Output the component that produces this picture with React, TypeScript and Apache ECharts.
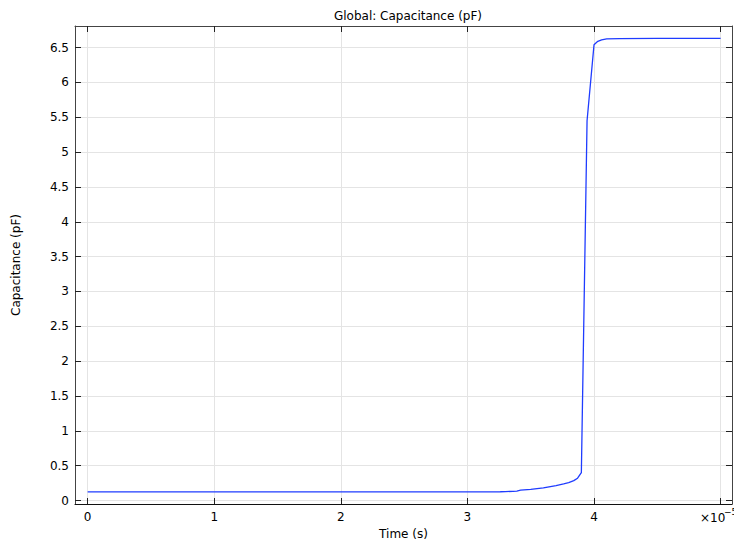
import React, { useEffect, useRef } from "react";
import * as echarts from "echarts";

const timeE5 = [0, 0.5, 1, 1.5, 2, 2.5, 3, 3.1, 3.2, 3.26, 3.3, 3.36, 3.39, 3.42, 3.5, 3.6, 3.7, 3.76, 3.8, 3.84, 3.87, 3.9, 3.945, 4.0, 4.03, 4.06, 4.1, 4.2, 4.5, 5.0];
const capacitance = [0.124, 0.124, 0.124, 0.124, 0.124, 0.124, 0.124, 0.124, 0.125, 0.126, 0.128, 0.132, 0.136, 0.148, 0.16, 0.18, 0.215, 0.24, 0.258, 0.285, 0.32, 0.4, 5.45, 6.54, 6.59, 6.61, 6.625, 6.63, 6.632, 6.632];
const xTicks = [0, 1, 2, 3, 4, 5];
const xLabels = [0, 1, 2, 3, 4];
const yTicks = [0, 0.5, 1, 1.5, 2, 2.5, 3, 3.5, 4, 4.5, 5, 5.5, 6, 6.5];

const FONT = "DejaVu Sans";
const GRID = "#e4e4e4";
const AXIS = "#444";

export default function App() {
  const ref = useRef<HTMLDivElement>(null);
  useEffect(() => {
    document.body.style.margin = "0";
    const chart = echarts.init(ref.current!, null, { renderer: "svg" });
    const xBase = {
      type: "value" as const,
      min: -0.1,
      max: 5.09,
      axisLine: { show: true, onZero: false, lineStyle: { color: AXIS, width: 1 } },
      axisTick: { show: true, inside: true, length: 6, customValues: xTicks, lineStyle: { color: "#222" } },
    };
    const yBase = {
      type: "value" as const,
      min: -0.05,
      max: 6.81,
      axisLine: { show: true, onZero: false, lineStyle: { color: AXIS, width: 1 } },
      axisTick: { show: true, inside: true, length: 6, customValues: yTicks, lineStyle: { color: "#222" } },
    };
    chart.setOption({
      animation: false,
      title: {
        text: "Global: Capacitance (pF)",
        left: 403,
        textAlign: "center",
        top: 5,
        textStyle: { fontFamily: FONT, fontSize: 12, fontWeight: "normal", color: "#000" },
      },
      grid: { left: 75, right: 2, top: 26, bottom: 36, containLabel: false, outerBoundsMode: "none" },
      xAxis: [
        {
          ...xBase,
          position: "bottom",
          name: "Time (s)",
          nameLocation: "middle",
          nameGap: 17,
          nameTextStyle: { fontFamily: FONT, fontSize: 12, color: "#000" },
          axisLine: { show: true, onZero: false, lineStyle: { color: "#111", width: 1 } },
          axisLabel: { customValues: xLabels, fontFamily: FONT, fontSize: 12, color: "#000", margin: 7 },
          splitLine: { show: true, lineStyle: { color: GRID, width: 1 } },
        },
        {
          ...xBase,
          position: "top",
          axisLabel: { show: false },
          splitLine: { show: false },
        },
      ],
      yAxis: [
        {
          ...yBase,
          position: "left",
          name: "Capacitance (pF)",
          nameLocation: "middle",
          nameGap: 53,
          nameTextStyle: { fontFamily: FONT, fontSize: 12, color: "#000" },
          axisLabel: { customValues: yTicks, fontFamily: FONT, fontSize: 12, color: "#000", margin: 6 },
          splitLine: { show: true, lineStyle: { color: GRID, width: 1 } },
        },
        {
          ...yBase,
          position: "right",
          axisLabel: { show: false },
          splitLine: { show: false },
        },
      ],
      graphic: [
        { type: "text", left: 700, top: 512, style: { text: "×10", font: `12px "${FONT}"`, fill: "#000" } },
        { type: "text", left: 724, top: 507, style: { text: "−5", font: `9px "${FONT}"`, fill: "#000" } },
      ],
      series: [
        {
          type: "line",
          data: timeE5.map((t, i) => [t, capacitance[i]]),
          showSymbol: false,
          lineStyle: { color: "#1f3cff", width: 1.3 },
          itemStyle: { color: "#1f3cff" },
          xAxisIndex: 0,
          yAxisIndex: 0,
        },
      ],
    });
    return () => chart.dispose();
  }, []);
  return <div ref={ref} style={{ width: 734, height: 540 }} />;
}
